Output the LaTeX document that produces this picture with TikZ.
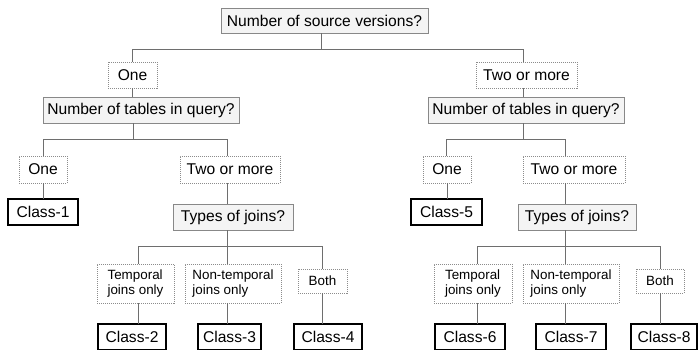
\documentclass[tikz,border=0pt]{standalone}
\usepackage{fontspec}
\setmainfont{Liberation Sans}
\definecolor{linec}{HTML}{6E6E6E}
\definecolor{qfill}{HTML}{F4F4F4}
\definecolor{qdraw}{HTML}{888888}
\definecolor{odraw}{HTML}{8C8C8C}
\begin{document}
\begin{tikzpicture}[x=1pt,y=-1pt,
  base/.style={inner sep=0pt, outer sep=0pt, align=left, font=\fontsize{15.6}{18}\selectfont},
  qbox/.style 2 args={base, draw=qdraw, fill=qfill, line width=1pt, minimum width=#1, minimum height=#2},
  obox/.style 2 args={base, draw=odraw, fill=white, line width=0.9pt, dash pattern=on 1pt off 1pt, minimum width=#1, minimum height=#2},
  sbox/.style 2 args={obox={#1}{#2}, font=\fontsize{13.4}{15}\selectfont},
  cbox/.style 2 args={inner sep=0pt, outer sep=0pt, align=center, font=\fontsize{15.6}{18}\selectfont, draw=black, fill=white, line width=2pt, minimum width=#1, minimum height=#2},
  edge/.style={draw=linec, line width=1pt}
]
\clip (0,0) rectangle (699,349);
\fill[white] (0,0) rectangle (699,349);

% nodes
\node[qbox={207pt}{25pt}] (q0) at (324.5,20.5) {Number of source versions?};
\node[obox={49pt}{26pt}] (o1) at (132.5,75) {One};
\node[obox={101pt}{26pt}] (o2) at (526.5,75) {Two or more};
\node[qbox={196pt}{26pt}] (q1) at (141,110) {Number of tables in query?};
\node[qbox={196pt}{26pt}] (q2) at (526,110) {Number of tables in query?};
\node[obox={48pt}{27pt}] (a1) at (43,169.5) {One};
\node[obox={100pt}{27pt}] (a2) at (230,169.5) {Two or more};
\node[obox={48pt}{27pt}] (a3) at (447,169.5) {One};
\node[obox={102pt}{27pt}] (a4) at (574,169.5) {Two or more};
\node[cbox={70pt}{26pt}] (c1) at (43,212) {Class-1};
\node[cbox={71pt}{26pt}] (c5) at (446.5,212) {Class-5};
\node[qbox={120pt}{26pt}] (t1) at (233,217) {Types of joins?};
\node[qbox={118pt}{26pt}] (t2) at (577,217) {Types of joins?};
\node[sbox={77pt}{39pt}] (j1) at (135.5,283.5) {Temporal\\joins only};
\node[sbox={96pt}{39pt}] (j2) at (233,283.5) {Non-temporal\\joins only};
\node[sbox={49pt}{24pt}] (j3) at (322.5,281) {Both};
\node[sbox={78pt}{39pt}] (j4) at (473,283.5) {Temporal\\joins only};
\node[sbox={96pt}{39pt}] (j5) at (571,283.5) {Non-temporal\\joins only};
\node[sbox={48pt}{24pt}] (j6) at (660,281) {Both};
\node[cbox={68pt}{26pt}] (c2) at (132,337) {Class-2};
\node[cbox={63pt}{26pt}] (c3) at (229.5,337) {Class-3};
\node[cbox={68pt}{26pt}] (c4) at (328,337) {Class-4};
\node[cbox={70pt}{26pt}] (c6) at (470,337) {Class-6};
\node[cbox={70pt}{26pt}] (c7) at (571,337) {Class-7};
\node[cbox={66pt}{26pt}] (c8) at (664,337) {Class-8};

% connectors
\draw[edge] (q0.south -| 321,0) -- (321,49);
\draw[edge] (o1.north -| 132,0) |- (523,49) -- (o2.north -| 523,0);
\draw[edge] (o1.south -| 132,0) -- (q1.north -| 132,0);
\draw[edge] (o2.south -| 523,0) -- (q2.north -| 523,0);
\draw[edge] (q1.south -| 133,0) -- (133,139);
\draw[edge] (a1.north) |- (227,139) -- (a2.north -| 227,0);
\draw[edge] (q2.south -| 523,0) -- (523,139);
\draw[edge] (a3.north -| 446,0) |- (565,139) -- (a4.north -| 565,0);
\draw[edge] (a1.south) -- (c1.north);
\draw[edge] (a3.south -| 447,0) -- (c5.north -| 447,0);
\draw[edge] (a2.south -| 227,0) -- (t1.north -| 227,0);
\draw[edge] (a4.south -| 565,0) -- (t2.north -| 565,0);
\draw[edge] (t1.south -| 227,0) -- (j2.north -| 227,0);
\draw[edge] (j1.north -| 138,0) |- (322,246) -- (j3.north -| 322,0);
\draw[edge] (t2.south -| 565,0) -- (j5.north -| 565,0);
\draw[edge] (j4.north -| 477,0) |- (660,246) -- (j6.north -| 660,0);
\draw[edge] (j1.south -| 138,0) -- (c2.north -| 138,0);
\draw[edge] (j2.south -| 227,0) -- (c3.north -| 227,0);
\draw[edge] (j3.south -| 322,0) -- (c4.north -| 322,0);
\draw[edge] (j4.south -| 477,0) -- (c6.north -| 477,0);
\draw[edge] (j5.south -| 565,0) -- (c7.north -| 565,0);
\draw[edge] (j6.south -| 660,0) -- (c8.north -| 660,0);
\end{tikzpicture}
\end{document}
